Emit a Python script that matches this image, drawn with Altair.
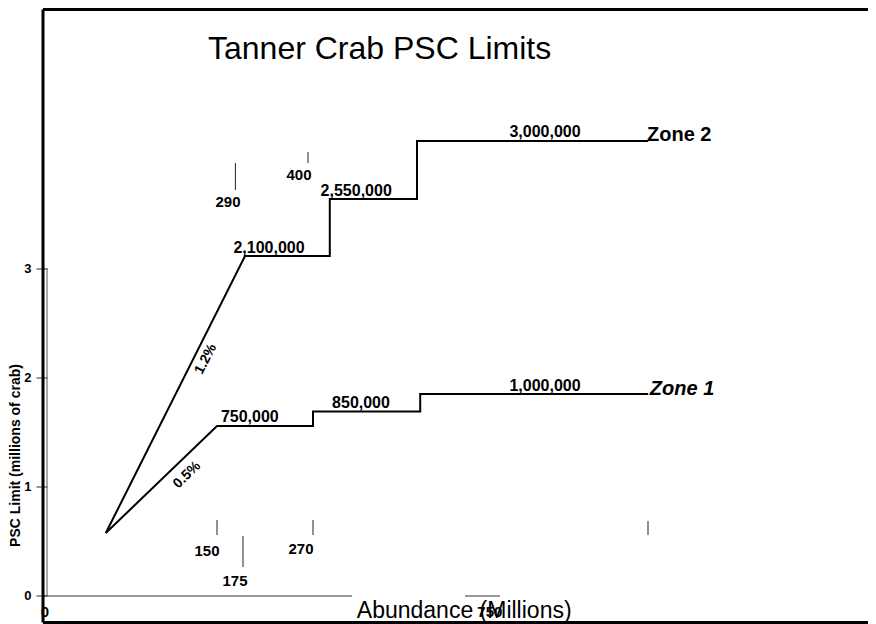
import altair as alt
import pandas as pd

FONT = "Liberation Sans"

# ---- data ----
# x: abundance (millions) on the chart's own horizontal scale, y: PSC limit (millions of crab)
zone1_x = [11, 150, 270, 270, 404, 404, 689]
zone1_y = [0.576, 1.555, 1.555, 1.6875, 1.6875, 1.8475, 1.8475]
zone2_x = [11, 185, 291, 291, 400, 400, 689]
zone2_y = [0.576, 3.11, 3.11, 3.631, 3.631, 4.162, 4.162]

limit_labels = ["750,000", "850,000", "1,000,000", "2,100,000", "2,550,000", "3,000,000"]
limit_x = [191, 330, 560, 215, 324, 560]
limit_y = [1.637, 1.765, 1.921, 3.183, 3.704, 4.244]

zone_names = ["Zone 1", "Zone 2"]
zone_x = [691, 687.5]
zone_y = [1.893, 4.216]

rate_labels = ["0.5%", "1.2%"]
rate_x = [112.5, 136]
rate_y = [1.107, 2.168]

tick_x = [150, 182.5, 270, 173, 263.75, 688.75]
tick_y1 = [0.558, 0.265, 0.558, 3.713, 3.96, 0.558]
tick_y2 = [0.695, 0.549, 0.695, 3.96, 4.061, 0.686]

tick_labels = ["150", "175", "270", "290", "400", "750", "0"]
tick_label_x = [137.5, 172.5, 255, 163.75, 252.5, 491, -65]
tick_label_y = [0.412, 0.137, 0.43, 3.604, 3.851, -0.146, -0.146]

xaxis_x1 = [-68, 460]
xaxis_x2 = [318.75, 503.75]

yaxis_ticks = [0, 1, 2, 3]

title_text = "Tanner Crab PSC Limits"
title_x, title_y = [138.75], [5.0]
xtitle_text = "Abundance (Millions)"
xtitle_x, xtitle_y = [459], [-0.137]

# scale extents (the frame is drawn on the edges of the plot area)
X_MIN, X_MAX = -67.5, 963.75
Y_MIN, Y_MAX = -0.2424, 5.3644

# ---- tables ----
lines = pd.DataFrame({
    "x": zone1_x + zone2_x,
    "y": zone1_y + zone2_y,
    "zone": ["Zone 1"] * len(zone1_x) + ["Zone 2"] * len(zone2_x),
    "order": list(range(len(zone1_x))) + list(range(len(zone2_x))),
})
limits = pd.DataFrame({"x": limit_x, "y": limit_y, "t": limit_labels})
zones = pd.DataFrame({"x": zone_x, "y": zone_y, "t": zone_names})
rates = pd.DataFrame({"x": rate_x, "y": rate_y, "t": rate_labels})
ticks = pd.DataFrame({"x": tick_x, "y": tick_y1, "y2": tick_y2})
tlabels = pd.DataFrame({"x": tick_label_x, "y": tick_label_y, "t": tick_labels})
xaxis = pd.DataFrame({"x": xaxis_x1, "x2": xaxis_x2, "y": [0, 0]})
yaxis = pd.DataFrame({"x": [-62.5], "y": [0], "y2": [3]})
titles = pd.DataFrame({"x": title_x, "y": title_y, "t": [title_text]})
xtitles = pd.DataFrame({"x": xtitle_x, "y": xtitle_y, "t": [xtitle_text]})
frame_h = pd.DataFrame({"x": [X_MIN, X_MIN], "x2": [X_MAX, X_MAX], "y": [Y_MAX, Y_MIN]})
frame_v = pd.DataFrame({"x": [X_MIN], "y": [Y_MIN], "y2": [Y_MAX]})

xs = alt.Scale(domain=[X_MIN, X_MAX], nice=False, zero=False)
ys = alt.Scale(domain=[Y_MIN, Y_MAX], nice=False, zero=False)
yax = alt.Axis(
    values=yaxis_ticks, domain=False, grid=False, tickSize=11, tickColor="#333333",
    tickWidth=1, labelFontSize=13, labelFontWeight="bold", labelFont=FONT,
    labelColor="black", labelPadding=5, offset=-4,
    title="PSC Limit (millions of crab)", titleFontSize=14, titleFontWeight="bold",
    titleFont=FONT, titleColor="black", titleAngle=270, titleX=-32, titleY=445.5,
    titleAlign="center", titleBaseline="middle",
)


def X(f="x"):
    return alt.X(f"{f}:Q", scale=xs, axis=None)


def Y(f="y"):
    return alt.Y(f"{f}:Q", scale=ys, axis=yax)


frame_h_layer = alt.Chart(frame_h).mark_rule(color="black", strokeWidth=3).encode(
    x=X(), x2="x2:Q", y=Y())
frame_v_layer = alt.Chart(frame_v).mark_rule(color="black", strokeWidth=3).encode(
    x=X(), y=Y(), y2="y2:Q")

line_layer = alt.Chart(lines).mark_line(color="black", strokeWidth=2).encode(
    x=X(), y=Y(), detail="zone:N", order="order:Q")

limit_layer = alt.Chart(limits).mark_text(
    font=FONT, fontSize=16, fontWeight="bold", color="black",
    align="center", baseline="middle").encode(x=X(), y=Y(), text="t:N")

zone1_layer = alt.Chart(zones[zones.t == "Zone 1"]).mark_text(
    font=FONT, fontSize=20, fontWeight="bold", fontStyle="italic", color="black",
    align="left", baseline="middle").encode(x=X(), y=Y(), text="t:N")
zone2_layer = alt.Chart(zones[zones.t == "Zone 2"]).mark_text(
    font=FONT, fontSize=20, fontWeight="bold", color="black",
    align="left", baseline="middle").encode(x=X(), y=Y(), text="t:N")

rate1_layer = alt.Chart(rates[rates.t == "0.5%"]).mark_text(
    font=FONT, fontSize=14, fontWeight="bold", color="black", angle=316,
    align="center", baseline="middle").encode(x=X(), y=Y(), text="t:N")
rate2_layer = alt.Chart(rates[rates.t == "1.2%"]).mark_text(
    font=FONT, fontSize=14, fontWeight="bold", color="black", angle=297,
    align="center", baseline="middle").encode(x=X(), y=Y(), text="t:N")

tick_layer = alt.Chart(ticks).mark_rule(color="#222222", strokeWidth=1).encode(
    x=X(), y=Y(), y2="y2:Q")

tlabel_layer = alt.Chart(tlabels).mark_text(
    font=FONT, fontSize=15, fontWeight="bold", color="black",
    align="center", baseline="middle").encode(x=X(), y=Y(), text="t:N")

xaxis_layer = alt.Chart(xaxis).mark_rule(color="#333333", strokeWidth=1).encode(
    x=X(), x2="x2:Q", y=Y())
yaxis_layer = alt.Chart(yaxis).mark_rule(color="#555555", strokeWidth=1).encode(
    x=X(), y=Y(), y2="y2:Q")

title_layer = alt.Chart(titles).mark_text(
    font=FONT, fontSize=32, color="black", align="left", baseline="middle"
).encode(x=X(), y=Y(), text="t:N")
xtitle_layer = alt.Chart(xtitles).mark_text(
    font=FONT, fontSize=23, color="black", align="center", baseline="middle"
).encode(x=X(), y=Y(), text="t:N")

chart = alt.layer(
    xaxis_layer, yaxis_layer, tick_layer, line_layer, limit_layer, zone1_layer,
    zone2_layer, rate1_layer, rate2_layer, xtitle_layer, tlabel_layer, title_layer,
    frame_h_layer, frame_v_layer,
).properties(
    width=825, height=613,
    autosize=alt.AutoSizeParams(type="none"),
    padding={"left": 35, "top": 1.5, "right": 0, "bottom": 1.5},
    background="white",
).configure_view(stroke=None)

chart.save("out.html", embed_options={"renderer": "svg", "actions": False})
